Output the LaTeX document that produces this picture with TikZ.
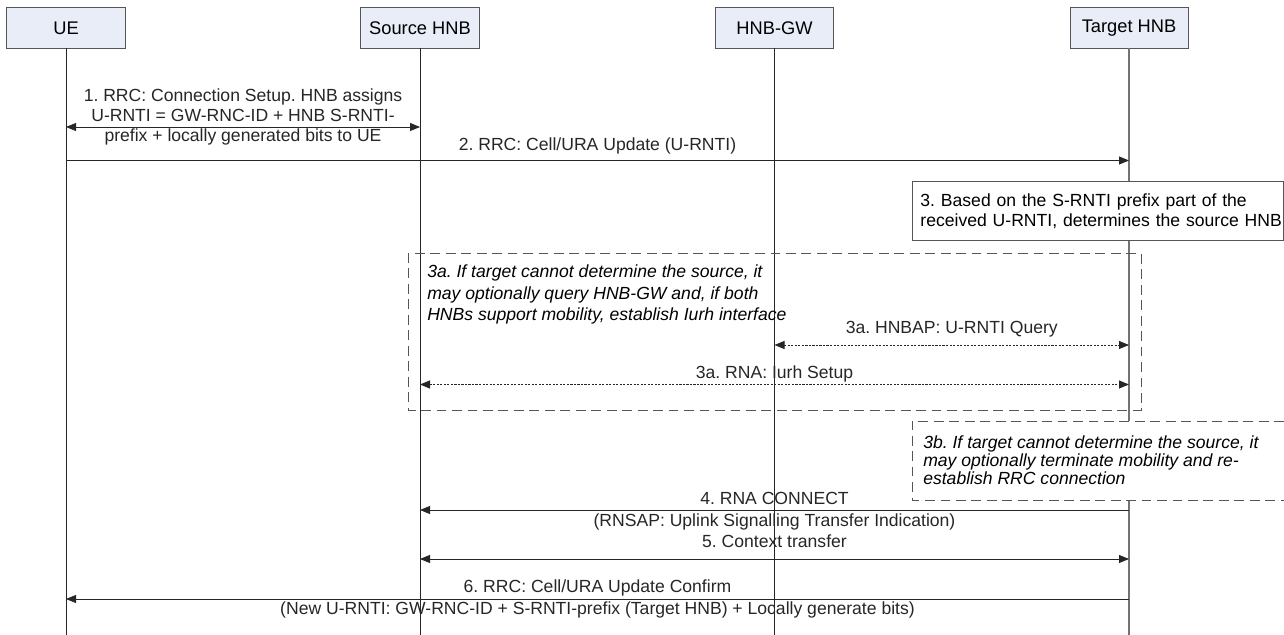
\documentclass[tikz,border=0pt]{standalone}
\usepackage{fontspec}
\setmainfont{Liberation Sans}
\usetikzlibrary{arrows.meta, calc}
\definecolor{headfill}{RGB}{232,237,247}
\definecolor{headline}{RGB}{85,85,85}
\frenchspacing

\begin{document}
\begin{tikzpicture}[x=0.025cm, y=-0.025cm, font=\fontsize{12.5}{14.2}\selectfont,
  actor/.style={draw=headline, fill=headfill, line width=0.7pt, minimum width=2.95cm, minimum height=1cm, inner sep=0pt, font=\fontsize{13}{14}\selectfont},
  life/.style={line width=0.6pt, black!85},
  tip/.style={-{Triangle[length=0.25cm, width=0.2cm]}},
  msg/.style={line width=0.6pt, black!85, tip},
  msgs/.style={line width=0.6pt, black!85, {Triangle[length=0.25cm, width=0.2cm]}-{Triangle[length=0.25cm, width=0.2cm]}},
  dotmsg/.style={msgs, dash pattern=on 1.5pt off 1pt},
  grp/.style={line width=0.6pt, headline, dash pattern=on 7pt off 4pt},
  lbl/.style={inner sep=0pt, align=center},
  note/.style={draw=headline, fill=white, line width=0.6pt, inner xsep=0.2cm, inner ysep=0pt, text width=8.875cm, minimum height=1.475cm, align=left}]

\useasboundingbox (0,0) rectangle (1284,635);

\node[actor] (ue) at (66,28) {UE};
\node[actor] (src) at (420,28) {Source HNB};
\node[actor] (gw) at (774.5,28) {HNB-GW};
\node[actor] (tgt) at (1129,28) {Target HNB};

\coordinate (bot) at (0,635);
\draw[life] (ue.south) -- (ue.south |- bot);
\draw[life] (src.south) -- (src.south |- bot);
\draw[life] (gw.south) -- (gw.south |- bot);
\draw[life, black!55, line width=1pt] (tgt.south) -- (tgt.south |- bot);

\coordinate (m1) at (0,127);
\coordinate (m2) at (0,160.5);
\coordinate (m3a) at (0,345);
\coordinate (m3b) at (0,384.5);
\coordinate (m4) at (0,510);
\coordinate (m5) at (0,559);
\coordinate (m6) at (0,599);

\draw[msgs] (ue |- m1) -- (src |- m1) node[lbl, midway, yshift=0.25cm] (t1) {1. RRC: Connection Setup. HNB assigns\\U-RNTI = GW-RNC-ID + HNB S-RNTI-\\prefix + locally generated bits to UE};

\draw[msg] (ue |- m2) -- (tgt |- m2) node[lbl, midway, yshift=0.375cm] (t2) {2. RRC: Cell/URA Update (U-RNTI)};

\node[note, anchor=north west] (n3) at (912,181) {\fontsize{12.5}{15}\selectfont \mbox{3. Based on the S-RNTI prefix part of the}\\\mbox{received U-RNTI, determines the source HNB}};

\draw[grp] (408,253) rectangle (1141,410);
\node[lbl, align=left, anchor=west, font=\fontsize{12.5}{15.2}\selectfont\itshape] (t3a) at (427,294.5) {3a. If target cannot determine the source, it\\may optionally query HNB-GW and, if both\\HNBs support mobility, establish Iurh interface};

\draw[dotmsg] (gw |- m3a) -- (tgt |- m3a) node[lbl, midway, yshift=0.4cm] (t3q) {3a. HNBAP: U-RNTI Query};
\draw[dotmsg] (src |- m3b) -- (tgt |- m3b) node[lbl, midway, yshift=0.275cm] (t3s) {3a. RNA: Iurh Setup};

\draw[grp, fill=white] (1284,421) -- (912,421) -- (912,500) -- (1284,500);
\node[lbl, align=left, anchor=west, font=\fontsize{12.5}{13}\selectfont\itshape] (t3b) at (923,460) {3b. If target cannot determine the source, it\\may optionally terminate mobility and re-\\establish RRC connection};

\draw[msg] (tgt |- m4) -- (src |- m4) node[lbl, midway, yshift=0.3cm] (t4) {4. RNA CONNECT} node[lbl, midway, yshift=-0.3cm] (t4b) {(RNSAP: Uplink Signalling Transfer Indication)};

\draw[msgs] (src |- m5) -- (tgt |- m5) node[lbl, midway, yshift=0.45cm] (t5) {5. Context transfer};

\draw[msg] (tgt |- m6) -- (ue |- m6) node[lbl, midway, yshift=0.275cm] (t6) {6. RRC: Cell/URA Update Confirm} node[lbl, midway, yshift=-0.275cm] (t6b) {(New U-RNTI: GW-RNC-ID + S-RNTI-prefix (Target HNB) + Locally generate bits)};

\end{tikzpicture}
\end{document}
